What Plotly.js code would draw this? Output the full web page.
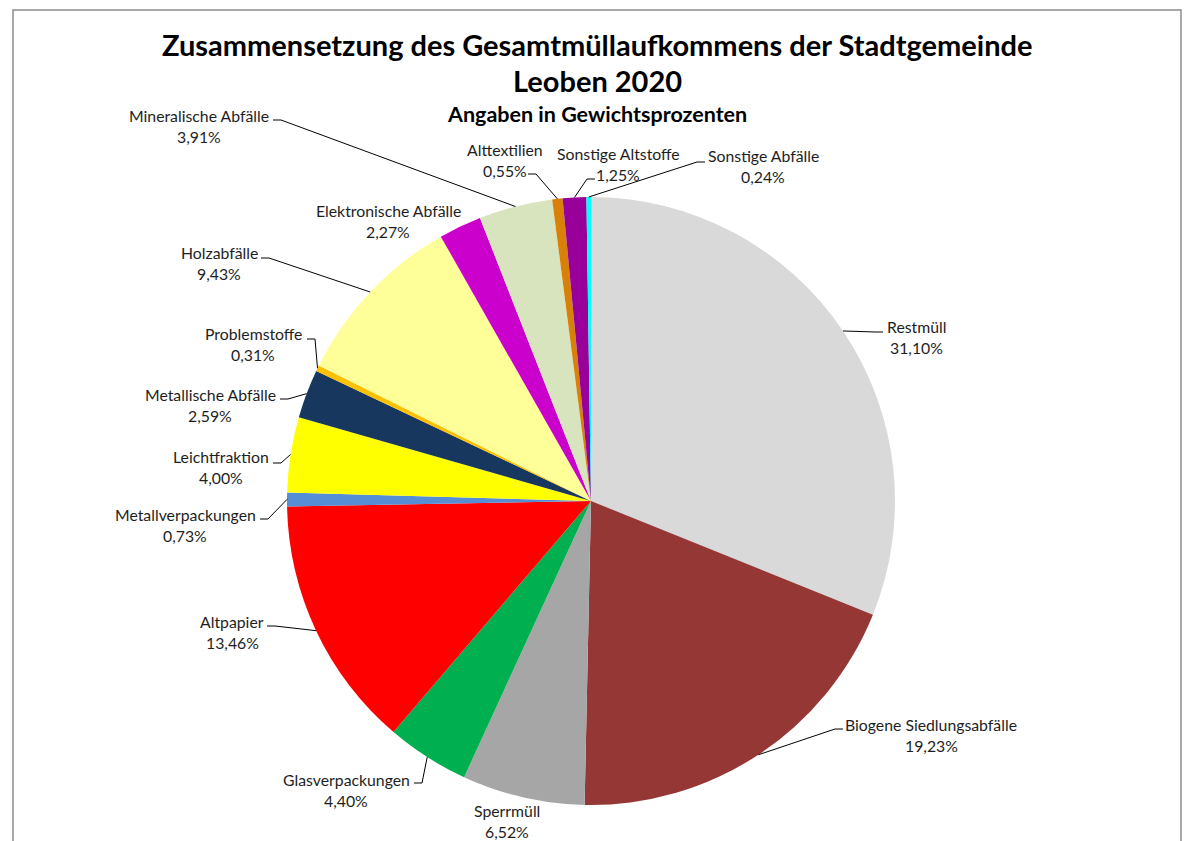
<!DOCTYPE html>
<html>
<head>
<meta charset="utf-8">
<script src="https://cdn.plot.ly/plotly-3.0.1.min.js"></script>
<style>html,body{margin:0;padding:0;background:#fff;}#chart{width:1184px;height:841px;}</style>
</head>
<body>
<div id="chart"></div>
<script>
// ---- data ----
const categories = ["Restmüll","Biogene Siedlungsabfälle","Sperrmüll","Glasverpackungen","Altpapier","Metallverpackungen","Leichtfraktion","Metallische Abfälle","Problemstoffe","Holzabfälle","Elektronische Abfälle","Mineralische Abfälle","Alttextilien","Sonstige Altstoffe","Sonstige Abfälle"];
const values = [31.10,19.23,6.52,4.40,13.46,0.73,4.00,2.59,0.31,9.43,2.27,3.91,0.55,1.25,0.24];
const colors = ["#d9d9d9","#953735","#a6a6a6","#00b050","#ff0000","#558ed5","#ffff00","#17375e","#ffc000","#ffff99","#cc00cc","#d7e4bd","#d98009","#990099","#00ffff"];
const titleLines = ["Zusammensetzung des Gesamtmüllaufkommens der Stadtgemeinde","Leoben 2020"];
const subtitle = "Angaben in Gewichtsprozenten";

// ---- layout (pixel positions) ----
const W = 1184, H = 841;
const CX = 591, CY = 501, R = 304;
// label block centre [x,y]; leader tick start [x,y, dir] (dir: +1 towards right, -1 towards left, 0 none)
const labelPos = [
  [916,337, 883,332,-1],
  [931,735, 843,729,-1],
  [507,821, 0,0,0],
  [346,790, 414,783,1],
  [232,632, 267,626,1],
  [185,525, 260,519,1],
  [221,467, 273,463,1],
  [210,405, 280,399,1],
  [253,344, 307,339,1],
  [219,263, 261,258,1],
  [388,221, 0,0,0],
  [199,126, 273,120,1],
  [505,160, 528,174,1],
  [618,164, 595,179,-1],
  [763,166, 705,162,-1]
];

const px = x => x / W;
const py = y => 1 - y / H;
const fmt = v => v.toFixed(2).replace('.', ',') + '%';

const total = values.reduce((a,b)=>a+b,0);
const annotations = [];
const shapes = [];
let cum = 0;
values.forEach((v,i) => {
  const th = 2*Math.PI*(cum + v/2)/total;
  cum += v;
  const ex = CX + R*Math.sin(th), ey = CY - R*Math.cos(th);
  const [tx,ty,kx,ky,dir] = labelPos[i];
  const font = {family:"Lato, 'Open Sans', sans-serif", size:15.8, color:"#1e1e1e"};
  annotations.push({xref:'paper',yref:'paper',x:px(tx),y:py(ty-10.5),text:categories[i],showarrow:false,xanchor:'center',yanchor:'middle',font:font});
  annotations.push({xref:'paper',yref:'paper',x:px(tx),y:py(ty+10.5),text:fmt(v),showarrow:false,xanchor:'center',yanchor:'middle',font:font});
  if (dir !== 0) {
    const k2 = kx + 8*dir;
    shapes.push({type:'path',xref:'paper',yref:'paper',
      path:`M ${px(kx)},${py(ky)} L ${px(k2)},${py(ky)} L ${px(ex)},${py(ey)}`,
      line:{color:'#000',width:1}});
  }
});

annotations.push({xref:'paper',yref:'paper',x:px(597),y:py(44),text:'<b>'+titleLines[0]+'</b>',showarrow:false,xanchor:'center',yanchor:'middle',font:{family:"Lato, sans-serif",size:29,color:'#000'}});
annotations.push({xref:'paper',yref:'paper',x:px(597),y:py(80),text:'<b>'+titleLines[1]+'</b>',showarrow:false,xanchor:'center',yanchor:'middle',font:{family:"Lato, sans-serif",size:29,color:'#000'}});
annotations.push({xref:'paper',yref:'paper',x:px(597),y:py(114),text:'<b>'+subtitle+'</b>',showarrow:false,xanchor:'center',yanchor:'middle',font:{family:"Lato, sans-serif",size:21.5,color:'#000'}});

shapes.push({type:'rect',xref:'paper',yref:'paper',x0:px(13),x1:px(1181),y0:-0.2,y1:py(10),line:{color:'#8c8c8c',width:1.5},fillcolor:'rgba(0,0,0,0)'});

const trace = {
  type:'pie', labels:categories, values:values, sort:false, direction:'clockwise', rotation:0,
  marker:{colors:colors, line:{width:0}}, textinfo:'none', hoverinfo:'label+percent',
  domain:{x:[px(CX-R),px(CX+R)], y:[py(CY+R),py(CY-R)]}
};

Plotly.newPlot('chart',[trace],{
  width:W,height:H,margin:{l:0,r:0,t:0,b:0},showlegend:false,
  paper_bgcolor:'#fff',annotations:annotations,shapes:shapes
},{displayModeBar:false,staticPlot:true});
</script>
</body>
</html>
